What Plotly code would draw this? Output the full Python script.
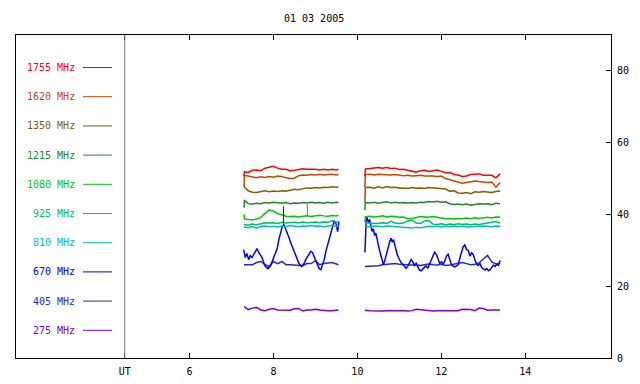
import plotly.graph_objects as go

TITLE = "01 03 2005"
FREQS = ["1755", "1620", "1350", "1215", "1080", "925", "810", "670", "405", "275"]
COLORS = ["#ff0000", "#c84600", "#8c5a00", "#2a822a", "#00c800",
          "#00be64", "#00bebe", "#0000ff", "#2828c8", "#8000c8"]

X_TICKS = [4.46, 6, 8, 10, 12, 14]
X_TICKTEXT = ["UT", "6", "8", "10", "12", "14"]
Y_TICKS = [0, 20, 40, 60, 80]
UT_POS = 4.46

# time grids (UT hours) for the two observing runs
T1 = [7.30, 7.31, 7.4, 7.5, 7.6, 7.7, 7.8, 7.9, 8.0, 8.1, 8.2, 8.3, 8.4, 8.5,
      8.6, 8.7, 8.8, 8.9, 9.0, 9.1, 9.2, 9.3, 9.4, 9.5, 9.55]
T2 = [10.18, 10.19, 10.3, 10.4, 10.5, 10.6, 10.7, 10.8, 10.9, 11.0, 11.1, 11.2,
      11.3, 11.4, 11.5, 11.6, 11.7, 11.8, 11.9, 12.0, 12.1, 12.2, 12.3, 12.4,
      12.5, 12.6, 12.7, 12.8, 12.9, 13.0, 13.1, 13.2, 13.3, 13.4]

F1755_A = [50.7, 51.9, 51.7, 52.3, 52.4, 52.2, 52.9, 53.1, 53.4, 52.9, 52.6, 52.6, 52.2,
           52.3, 52.6, 52.7, 52.6, 52.7, 52.6, 52.4, 52.6, 52.4, 52.6, 52.4, 52.6]
F1755_B = [50.6, 52.7, 52.8, 53.0, 53.1, 52.9, 53.1, 52.8, 52.9, 52.5, 52.6, 52.3, 52.1,
           51.8, 52.2, 52.3, 52.0, 52.2, 52.4, 52.0, 51.6, 51.7, 51.2, 51.0, 50.6, 50.7,
           51.1, 51.2, 51.3, 50.9, 50.8, 50.9, 50.2, 51.3]

F1620_A = [48.0, 50.9, 50.7, 50.4, 50.2, 50.5, 50.3, 50.6, 50.4, 50.7, 50.6, 50.2, 50.0,
           50.1, 50.8, 51.0, 50.9, 51.1, 51.0, 51.2, 51.0, 51.1, 51.2, 51.0, 51.1]
F1620_B = [47.6, 51.1, 51.2, 51.0, 51.2, 51.1, 51.2, 51.0, 51.1, 50.9, 50.8, 50.9, 50.7,
           50.8, 50.9, 50.7, 50.8, 50.7, 50.6, 50.7, 50.0, 49.7, 49.3, 49.0, 48.7, 48.9,
           49.2, 49.3, 49.2, 49.0, 48.9, 49.0, 47.6, 48.9]

F1350_A = [48.4, 47.6, 46.6, 46.2, 46.1, 46.4, 46.6, 46.3, 46.5, 46.4, 46.6, 46.5, 46.8,
           47.0, 46.9, 47.2, 47.4, 47.3, 47.5, 47.4, 47.6, 47.5, 47.7, 47.6, 47.7]
F1350_B = [43.4, 47.5, 47.6, 47.3, 47.7, 47.4, 47.8, 47.5, 47.6, 47.3, 47.4, 47.2, 47.5,
           47.3, 47.4, 47.2, 47.5, 47.4, 47.3, 47.4, 47.1, 46.5, 46.6, 46.0, 45.9, 46.1,
           45.8, 46.3, 46.2, 46.4, 46.2, 46.1, 46.4, 46.5]

F1215_A = [41.9, 44.0, 43.0, 42.9, 43.1, 43.0, 43.3, 43.2, 43.4, 43.2, 43.1, 43.3, 43.0,
           43.2, 43.1, 43.3, 43.2, 43.4, 43.2, 43.3, 43.1, 43.4, 43.2, 43.4, 43.3]
F1215_B = [41.2, 43.3, 43.2, 43.4, 43.1, 43.3, 43.5, 43.2, 43.4, 43.2, 43.3, 43.1, 43.3,
           43.2, 43.4, 43.3, 43.6, 43.5, 43.7, 43.4, 43.5, 43.0, 42.8, 42.9, 42.7, 42.9,
           42.6, 42.8, 43.0, 42.9, 43.0, 42.7, 43.1, 43.0]

F1080_A = [40.0, 38.8, 38.6, 38.5, 38.7, 39.2, 40.3, 41.2, 41.0, 40.2, 39.9, 39.5, 39.4,
           39.5, 39.3, 39.5, 39.6, 39.4, 39.5, 39.8, 39.6, 39.5, 39.7, 39.6, 39.8]
F1080_B = [37.9, 39.4, 39.5, 39.3, 39.4, 39.6, 39.3, 39.5, 39.4, 39.2, 39.3, 38.8, 38.9,
           39.2, 39.4, 39.3, 39.2, 39.4, 39.1, 39.0, 38.8, 38.9, 38.7, 38.9, 38.8, 39.0,
           38.8, 39.1, 38.9, 39.0, 39.2, 39.0, 39.3, 39.2]

F925_A = [37.3, 37.2, 37.0, 37.3, 37.1, 37.5, 37.7, 37.6, 37.7, 37.5, 37.8, 37.6, 37.7,
          37.8, 37.6, 37.9, 37.7, 37.8, 37.9, 37.7, 37.9, 37.8, 38.2, 37.9, 38.0]
F925_B = [37.6, 37.6, 37.4, 37.6, 37.5, 37.7, 37.5, 38.1, 37.6, 37.5, 37.6, 38.2, 38.4,
          37.6, 37.5, 38.2, 38.3, 37.3, 37.2, 37.4, 37.1, 37.3, 37.2, 37.4, 37.2, 37.3,
          37.1, 37.3, 37.2, 37.4, 37.5, 37.8, 38.0, 37.6]

F810_A = [36.6, 36.5, 36.3, 36.6, 36.2, 36.7, 36.8, 36.6, 36.7, 36.5, 36.8, 36.6, 36.9,
          36.7, 36.6, 36.8, 36.7, 36.9, 36.7, 36.8, 36.6, 36.8, 36.9, 36.7, 36.8]
F810_B = [36.8, 36.7, 36.6, 36.8, 36.7, 36.6, 36.8, 36.7, 36.6, 36.7, 36.5, 36.3, 36.2,
          36.4, 36.3, 36.5, 36.7, 36.6, 36.7, 36.5, 36.7, 36.6, 36.8, 36.6, 36.7, 36.5,
          36.6, 36.7, 36.6, 36.8, 36.7, 36.6, 36.8, 36.7]

T670_A = [7.29, 7.33, 7.37, 7.41, 7.45, 7.49, 7.53, 7.57, 7.61, 7.65,
          7.69, 7.73, 7.77, 7.81, 7.87, 7.93, 7.97, 8.01, 8.05, 8.09,
          8.13, 8.17, 8.21, 8.25, 8.29, 8.33, 8.37, 8.41, 8.45, 8.49,
          8.53, 8.57, 8.61, 8.67, 8.73, 8.77, 8.81, 8.85, 8.89, 8.93,
          8.97, 9.01, 9.05, 9.09, 9.13, 9.17, 9.21, 9.25, 9.29, 9.33,
          9.37, 9.41, 9.45, 9.49, 9.53, 9.56]
F670_A = [30.2, 28.0, 29.1, 27.4, 28.5, 28.0, 28.8, 29.9, 30.5, 29.4,
          28.5, 28.0, 26.6, 25.5, 24.9, 25.7, 26.9, 28.0, 29.1, 30.5,
          33.0, 35.2, 36.6, 37.2, 36.1, 35.0, 33.6, 32.2, 31.0, 29.7,
          28.3, 27.1, 26.3, 25.5, 26.3, 27.4, 28.3, 29.1, 29.7, 29.4,
          28.3, 26.9, 25.7, 24.9, 24.6, 26.0, 27.4, 29.7, 31.3, 33.6,
          35.0, 36.6, 38.3, 37.5, 35.2, 38.0]
T670_B = [10.18, 10.19, 10.21, 10.23, 10.26, 10.29, 10.32, 10.35, 10.38, 10.41,
          10.44, 10.47, 10.50, 10.53, 10.56, 10.59, 10.62, 10.65, 10.68, 10.71,
          10.74, 10.77, 10.80, 10.83, 10.86, 10.89, 10.92, 10.95, 10.98, 11.01,
          11.04, 11.08, 11.12, 11.16, 11.20, 11.24, 11.28, 11.32, 11.36, 11.40,
          11.44, 11.48, 11.52, 11.56, 11.60, 11.64, 11.68, 11.72, 11.76, 11.80,
          11.84, 11.88, 11.92, 11.96, 12.00, 12.04, 12.08, 12.12, 12.16, 12.20,
          12.24, 12.28, 12.32, 12.36, 12.40, 12.44, 12.48, 12.52, 12.56, 12.60,
          12.64, 12.68, 12.72, 12.76, 12.80, 12.84, 12.88, 12.92, 12.96, 13.00,
          13.04, 13.08, 13.12, 13.16, 13.20, 13.24, 13.28, 13.32, 13.36, 13.40]
F670_B = [29.4, 36.0, 38.5, 39.2, 37.8, 38.6, 36.4, 35.3, 36.0, 34.2,
          34.8, 32.6, 31.5, 29.9, 28.8, 27.6, 26.0, 27.0, 28.5, 29.6,
          30.7, 32.4, 33.4, 32.3, 33.0, 31.5, 30.2, 28.8, 28.0, 27.2,
          26.6, 26.1, 25.4, 25.0, 25.6, 26.6, 27.4, 26.8, 25.8, 26.4,
          25.2, 24.5, 24.3, 24.9, 25.3, 25.6, 25.0, 26.2, 27.4, 28.6,
          29.5, 28.9, 27.8, 26.4, 26.8, 26.2, 26.9, 28.4, 28.9, 27.5,
          26.0, 25.6, 25.4, 25.7, 26.0, 27.8, 29.5, 31.0, 31.5, 30.2,
          30.0, 28.4, 29.3, 28.8, 27.3, 26.2, 25.8, 26.3, 25.2, 24.8,
          24.5, 24.9, 24.3, 24.6, 25.4, 25.9, 25.5, 26.1, 25.8, 27.2]

F405_A = [26.0, 26.0, 25.9, 26.0, 26.6, 26.9, 26.0, 25.5, 26.9, 26.3, 26.9, 26.0, 26.0,
          25.9, 25.7, 25.7, 26.3, 26.3, 27.1, 26.0, 26.3, 26.4, 26.6, 26.2, 26.0]
F405_B = [25.5, 25.5, 25.6, 25.5, 25.7, 26.0, 26.1, 26.0, 26.3, 26.1, 26.0, 25.8, 25.9,
          26.0, 25.8, 26.0, 26.2, 26.0, 25.9, 26.1, 25.8, 25.9, 26.2, 26.4, 26.6, 26.3,
          26.0, 26.1, 26.5, 27.6, 28.6, 26.8, 26.2, 26.4]

F275_A = [14.3, 14.2, 13.5, 13.9, 14.1, 13.4, 13.2, 13.6, 13.8, 13.4, 13.4, 13.5, 13.3,
          13.7, 13.8, 13.1, 13.4, 13.4, 13.6, 13.4, 13.2, 13.2, 13.2, 13.3, 13.4]
F275_B = [13.2, 13.3, 13.2, 13.1, 13.2, 13.1, 13.2, 13.2, 13.4, 13.4, 13.2, 13.1, 13.2,
          13.6, 13.5, 13.2, 13.2, 13.1, 13.2, 13.2, 13.2, 13.1, 13.1, 13.2, 13.6, 13.6,
          13.5, 13.2, 13.9, 13.8, 13.3, 13.4, 13.4, 13.4]

# short interference spikes
SPIKE_FREQ = ["670", "1080"]
SPIKE_T = [8.24, 8.81]
SPIKE_LO = [37.0, 39.5]
SPIKE_HI = [42.3, 42.8]

SERIES = {
    "1755": (T1, F1755_A, T2, F1755_B),
    "1620": (T1, F1620_A, T2, F1620_B),
    "1350": (T1, F1350_A, T2, F1350_B),
    "1215": (T1, F1215_A, T2, F1215_B),
    "1080": (T1, F1080_A, T2, F1080_B),
    "925": (T1, F925_A, T2, F925_B),
    "810": (T1, F810_A, T2, F810_B),
    "670": (T670_A, F670_A, T670_B, F670_B),
    "405": (T1, F405_A, T2, F405_B),
    "275": (T1, F275_A, T2, F275_B),
}

FONT = "DejaVu Sans Mono"
fig = go.Figure()

draw_order = ["275", "405", "670", "810", "925", "1080", "1215", "1350", "1620", "1755"]
for f in draw_order:
    c = COLORS[FREQS.index(f)]
    ta, va, tb, vb = SERIES[f]
    fig.add_trace(go.Scatter(x=list(ta) + [None] + list(tb), y=list(va) + [None] + list(vb),
                             mode="lines", line=dict(color=c, width=1.5),
                             hoverinfo="skip", showlegend=False))

for f, t, lo, hi in zip(SPIKE_FREQ, SPIKE_T, SPIKE_LO, SPIKE_HI):
    c = COLORS[FREQS.index(f)]
    fig.add_trace(go.Scatter(x=[t, t], y=[lo, hi], mode="lines",
                             line=dict(color=c, width=1), hoverinfo="skip", showlegend=False))

# plot area geometry in pixels
L, R, T, B = 16, 611, 35, 358
W, H = R - L, B - T

def px_x(p):
    return (p - L) / W

def px_y(p):
    return (B - p) / H

shapes = [dict(type="line", xref="x", yref="paper", x0=UT_POS, x1=UT_POS, y0=0, y1=1,
               line=dict(color="#808080", width=1))]
annotations = [dict(text=TITLE, xref="paper", yref="paper", x=0.5, y=px_y(18),
                    showarrow=False, font=dict(family=FONT, size=10, color="black"),
                    xanchor="center", yanchor="middle")]

for i, (f, c) in enumerate(zip(FREQS, COLORS)):
    yy = px_y(67.5 + 29.2 * i)
    annotations.append(dict(text=f"{f} MHz", xref="paper", yref="paper", x=px_x(77), y=yy,
                            showarrow=False, xanchor="right", yanchor="middle",
                            font=dict(family=FONT, size=10, color=c)))
    shapes.append(dict(type="line", xref="paper", yref="paper", x0=px_x(83), x1=px_x(112),
                       y0=yy, y1=yy, line=dict(color=c, width=1)))

fig.update_layout(
    width=640, height=384, autosize=False,
    margin=dict(l=L, r=640 - R, t=T, b=384 - B, pad=0),
    paper_bgcolor="white", plot_bgcolor="white",
    shapes=shapes, annotations=annotations,
    font=dict(family=FONT, size=10, color="black"),
    xaxis=dict(range=[1.87, 16.04], tickvals=X_TICKS, ticktext=X_TICKTEXT,
               ticks="inside", ticklen=5, tickcolor="black", showline=True,
               linecolor="black", linewidth=1, mirror="ticks", showgrid=False,
               zeroline=False, ticklabelstandoff=4, automargin=False,
               tickfont=dict(family=FONT, size=10, color="black")),
    yaxis=dict(range=[0, 90], tickvals=Y_TICKS, side="right",
               ticks="inside", ticklen=5, tickcolor="black", showline=True,
               linecolor="black", linewidth=1, mirror=True, showgrid=False,
               zeroline=False, ticklabelstandoff=3, automargin=False,
               tickfont=dict(family=FONT, size=10, color="black")),
)

fig.write_html("out.html", config={"displayModeBar": False},
               post_script="document.body.style.margin='0px';document.body.style.overflow='hidden';")
